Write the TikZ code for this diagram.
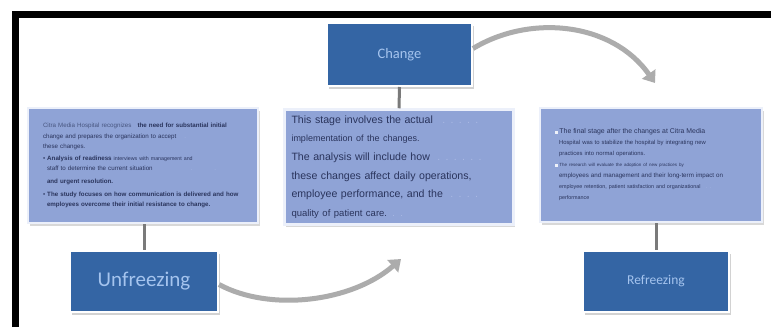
\documentclass[tikz,border=0pt]{standalone}
\usepackage{fontspec}
\setmainfont{Liberation Sans}
\newfontfamily\calib{Carlito}
\usetikzlibrary{arrows.meta,shadows}
\definecolor{boxblue}{RGB}{52,101,164}
\definecolor{labelblue}{RGB}{165,196,238}
\definecolor{panel}{RGB}{143,163,214}
\definecolor{panelline}{RGB}{236,240,250}
\definecolor{txt}{RGB}{42,52,92}
\definecolor{txtlight}{RGB}{72,86,128}
\definecolor{arrowgray}{RGB}{172,172,172}
\definecolor{linkgray}{RGB}{122,122,122}
\definecolor{dotblue}{RGB}{170,185,228}
\begin{document}
\begin{tikzpicture}[x=1pt,y=-1pt,
  stage/.style={draw=white, line width=2pt, fill=boxblue, text=labelblue, inner sep=0pt,
    drop shadow={opacity=0.35,shadow xshift=2pt,shadow yshift=-2.5pt}},
  panelbox/.style={draw=panelline, line width=2.5pt, fill=panel, inner ysep=0pt,
    align=left, text=txt,
    drop shadow={opacity=0.3,shadow xshift=1.5pt,shadow yshift=-2.5pt}},
  link/.style={draw=linkgray, line width=3pt},
  flow/.style={draw=arrowgray, line width=5pt, -{Triangle[width=16pt,length=11pt]}},
]
\useasboundingbox (0,0) rectangle (771,327);
\fill[white] (0,0) rectangle (771,327);
% frame
\draw[line width=7pt, black, line join=miter] (15.5,327) -- (15.5,14.5) -- (771,14.5);

% stage boxes
\node[stage, minimum width=145pt, minimum height=63pt, font=\calib\fontsize{14.5}{14.5}\selectfont] (change) at (399.5,54.5) {Change};
\node[stage, minimum width=148pt, minimum height=61pt, font=\calib\fontsize{21}{21}\selectfont] (unfreeze) at (144,281.5) {Unfreezing};
\node[stage, minimum width=146pt, minimum height=61pt, font=\calib\fontsize{13.5}{13.5}\selectfont] (refreeze) at (656,281.5) {Refreezing};

% panels
\node[panelbox, minimum width=230pt, minimum height=115pt, inner xsep=15pt, text width=200pt,
  font=\fontsize{6.2}{10.2}\selectfont] (left) at (143,165.5) {%
{\color{txtlight}Citra Media Hospital recognizes} \hspace{4pt}\textbf{the need for substantial initial}\\
change and prepares the organization to accept \hspace{6pt}{\color{dotblue}.}\\
these changes.\\[2pt]
\textbullet\ \textbf{Analysis of readiness} {\fontsize{5.3}{6}\selectfont interviews with management and}\\
\hspace*{4pt}staff to determine the current situation \hspace{36pt}{\color{dotblue}.\hspace{22pt}.}\\[3pt]
\hspace*{4pt}\textbf{and urgent resolution.}\\[2pt]
\textbullet\ \textbf{The study focuses on how communication is delivered and how}\\
\hspace*{4pt}\textbf{employees overcome their initial resistance to change.}};

\node[panelbox, minimum width=229pt, minimum height=115pt, inner xsep=7pt, text width=215pt,
  font=\fontsize{10.6}{18.7}\selectfont] (mid) at (399,167) {%
This stage involves the actual {\color{dotblue}\hspace{6pt}. . . . .}\\
{\fontsize{9}{10}\selectfont implementation of the changes.}\\
The analysis will include how {\color{dotblue}\hspace{4pt}. . . . . .}\\
these changes affect daily operations,\\
employee performance, and the {\color{dotblue}\hspace{4pt}. . . .}\\
{\fontsize{9.5}{10}\selectfont quality of patient care. {\color{dotblue}. .}}};

\node[panelbox, minimum width=222pt, minimum height=114pt, inner xsep=15pt, text width=192pt,
  font=\fontsize{5.9}{11}\selectfont] (right) at (651,165) {%
{\color{white!85!panel}\rule{2.5pt}{2.5pt}}\ {\fontsize{6.9}{7}\selectfont The final stage after the changes at Citra Media}\\
\hspace*{4pt}Hospital was to stabilize the hospital by integrating new\\
\hspace*{4pt}practices into normal operations.\\
{\color{white!85!panel}\rule{2.5pt}{2.5pt}}\ {\fontsize{4.5}{5}\selectfont The research will evaluate the adoption of new practices by}\\
\hspace*{4pt}{\fontsize{6.2}{7}\selectfont employees and management and their long-term impact on}\\
\hspace*{4pt}{\fontsize{5.4}{6}\selectfont employee retention, patient satisfaction and organizational \hspace{3pt}{\color{dotblue}. .}}\\
\hspace*{4pt}{\fontsize{5.4}{6}\selectfont performance}};

% connectors
\draw[link] (change.south) -- (mid.north);
\draw[link] (unfreeze.north |- left.south) -- (unfreeze.north);
\draw[link] (refreeze.north |- right.south) -- (refreeze.north);

% flow arrows
\coordinate (uptip) at (655,83);
\coordinate (lowtip) at (401,259);
\draw[flow] ([yshift=6pt]change.east) .. controls (530,14) and (612,22) .. (uptip);
\draw[flow] ([yshift=-3pt]unfreeze.east) .. controls (270,312) and (352,302) .. (lowtip);
\end{tikzpicture}
\end{document}
